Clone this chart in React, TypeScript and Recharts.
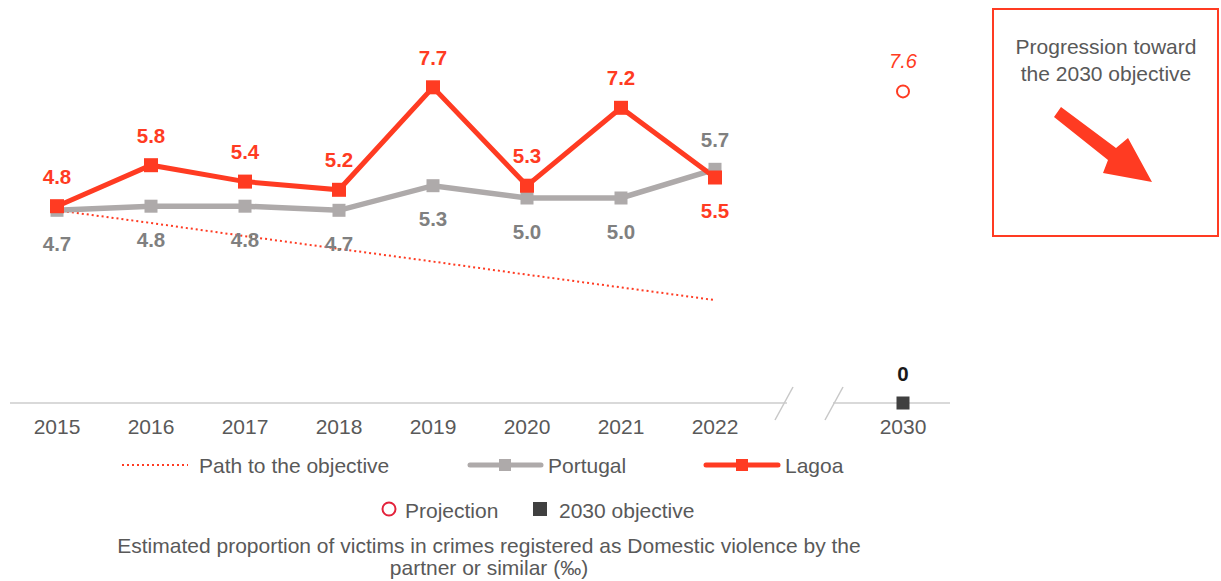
import React from 'react';
import { LineChart, Line, XAxis, YAxis, LabelList } from 'recharts';

const categories = ['2015', '2016', '2017', '2018', '2019', '2020', '2021', '2022', '', '2030'];
const lagoa = [4.8, 5.8, 5.4, 5.2, 7.7, 5.3, 7.2, 5.5, null, null];
const portugal = [4.7, 4.8, 4.8, 4.7, 5.3, 5.0, 5.0, 5.7, null, null];
const pathToObjective = [4.7, 4.39, 4.07, 3.76, 3.45, 3.13, 2.82, 2.51, null, null];
const projection = [null, null, null, null, null, null, null, null, null, 7.6];
const objective = [null, null, null, null, null, null, null, null, null, 0];

const data = categories.map((c, i) => ({
  year: c,
  lagoa: lagoa[i],
  portugal: portugal[i],
  path: pathToObjective[i],
  projection: projection[i],
  objective: objective[i],
}));

const W = 1221;
const H = 581;
const M = { top: 34, right: 271, left: 10, bottom: 148 };
const XH = 30;
const AXIS_Y = H - M.bottom - XH;
const BAND = (W - M.left - M.right) / categories.length;

const RED = '#FF3B22';
const GREY = '#AEAAAA';
const LABEL_GREY = '#808080';
const TEXT = '#595959';
const FONT = '"Liberation Sans", Arial, sans-serif';

const SquareDot = (color: string, size: number) => (p: any) => {
  if (p.value == null || p.cx == null) return <g key={p.key} />;
  return <rect key={p.key} x={p.cx - size / 2} y={p.cy - size / 2} width={size} height={size} fill={color} />;
};

const CircleDot = (p: any) => {
  if (p.value == null || p.cx == null) return <g key={p.key} />;
  return <circle key={p.key} cx={p.cx} cy={p.cy} r={6} fill="#fff" stroke={RED} strokeWidth={2} />;
};

const makeLabel = (color: string, below: (i: number) => boolean, opts: any = {}) => (p: any) => {
  const { x, y, value, index } = p;
  if (value == null) return null;
  const b = below(index);
  return (
    <text
      x={x}
      y={b ? y + (opts.belowOff ?? 33) : y - 30}
      textAnchor="middle"
      dominantBaseline="central"
      fill={color}
      fontFamily={FONT}
      fontSize={opts.size ?? 20.5}
      fontWeight={opts.weight ?? 'bold'}
      fontStyle={opts.style ?? 'normal'}
    >
      {opts.fmt ? opts.fmt(value) : Number(value).toFixed(1)}
    </text>
  );
};

const lastIdx = 7;

export default function App() {
  const gapMid = M.left + BAND * 8.5;
  const gapX1 = gapMid - 25;
  const gapX2 = gapMid + 25;
  return (
    <div style={{ position: 'absolute', left: 0, top: 0, width: W, height: H, background: '#fff', fontFamily: FONT }}>
      <LineChart width={W} height={H} data={data} margin={M}>
        <YAxis hide domain={[0, 9]} type="number" />
        <XAxis
          dataKey="year"
          height={XH}
          padding={{ left: BAND / 2, right: BAND / 2 }}
          axisLine={{ stroke: '#D9D9D9', strokeWidth: 2 }}
          tickLine={false}
          tick={{ fill: TEXT, fontSize: 21, fontFamily: FONT }}
          dy={8}
          interval={0}
        />
        <Line
          dataKey="path"
          stroke={RED}
          strokeWidth={2}
          strokeDasharray="2 3"
          dot={false}
          activeDot={false}
          isAnimationActive={false}
          connectNulls={false}
        />
        <Line
          dataKey="portugal"
          stroke={GREY}
          strokeWidth={5.5}
          dot={SquareDot(GREY, 13)}
          activeDot={false}
          isAnimationActive={false}
        >
          <LabelList dataKey="portugal" content={makeLabel(LABEL_GREY, (i) => i !== lastIdx)} />
        </Line>
        <Line
          dataKey="lagoa"
          stroke={RED}
          strokeWidth={5}
          dot={SquareDot(RED, 14)}
          activeDot={false}
          isAnimationActive={false}
        >
          <LabelList dataKey="lagoa" content={makeLabel(RED, (i) => i === lastIdx)} />
        </Line>
        <Line
          dataKey="projection"
          stroke="none"
          dot={CircleDot}
          activeDot={false}
          isAnimationActive={false}
        >
          <LabelList
            dataKey="projection"
            content={makeLabel(RED, () => false, { weight: 'normal', style: 'italic', size: 20 })}
          />
        </Line>
        <Line
          dataKey="objective"
          stroke="none"
          dot={SquareDot('#404040', 13)}
          activeDot={false}
          isAnimationActive={false}
        >
          <LabelList
            dataKey="objective"
            content={makeLabel('#1a1a1a', () => false, { fmt: (v: number) => String(v) })}
          />
        </Line>
      </LineChart>

      <svg width={W} height={H} style={{ position: 'absolute', left: 0, top: 0, pointerEvents: 'none' }}>
        {/* axis break */}
        <rect x={gapX1 + 3} y={AXIS_Y - 3} width={gapX2 - gapX1 - 4} height={6} fill="#fff" />
        <line x1={gapX1 + 9} y1={AXIS_Y - 16} x2={gapX1 - 9} y2={AXIS_Y + 17} stroke="#C8C8C8" strokeWidth={1.5} />
        <line x1={gapX2 + 9} y1={AXIS_Y - 16} x2={gapX2 - 9} y2={AXIS_Y + 17} stroke="#C8C8C8" strokeWidth={1.5} />

        {/* legend row 1 */}
        <g fontFamily={FONT} fontSize={21} fill={TEXT}>
          <line x1={122} y1={465} x2={188} y2={465} stroke={RED} strokeWidth={2} strokeDasharray="2 3" />
          <text x={199} y={465} dominantBaseline="central">Path to the objective</text>
          <line x1={470} y1={465} x2={541} y2={465} stroke={GREY} strokeWidth={5} strokeLinecap="round" />
          <rect x={499} y={459} width={12} height={12} fill={GREY} />
          <text x={548} y={465} dominantBaseline="central">Portugal</text>
          <line x1={706} y1={465} x2={778} y2={465} stroke={RED} strokeWidth={5} strokeLinecap="round" />
          <rect x={736} y={459} width={12} height={12} fill={RED} />
          <text x={785} y={465} dominantBaseline="central">Lagoa</text>

          <circle cx={389} cy={509} r={6.5} fill="#fff" stroke="#E3223B" strokeWidth={2} />
          <text x={405} y={510} dominantBaseline="central">Projection</text>
          <rect x={533} y={502} width={14} height={14} fill="#404040" />
          <text x={559} y={510} dominantBaseline="central">2030 objective</text>
        </g>
        <g fontFamily={FONT} fontSize={21} fill={TEXT} textAnchor="middle">
          <text x={489} y={545} dominantBaseline="central">
            Estimated proportion of victims in crimes registered as Domestic violence by the
          </text>
          <text x={489} y={567} dominantBaseline="central">partner or similar (‰)</text>
        </g>

        {/* side box */}
        <rect x={993} y={9} width={225} height={227} fill="#fff" stroke={RED} strokeWidth={2} />
        <g fontFamily={FONT} fontSize={21} fill={TEXT} textAnchor="middle">
          <text x={1106} y={46} dominantBaseline="central">Progression toward</text>
          <text x={1106} y={73} dominantBaseline="central">the 2030 objective</text>
        </g>
        <polygon
          points="1061,107 1054,117 1108,160 1103,173 1152,182 1128,138 1116,148"
          fill={RED}
        />
      </svg>
    </div>
  );
}
